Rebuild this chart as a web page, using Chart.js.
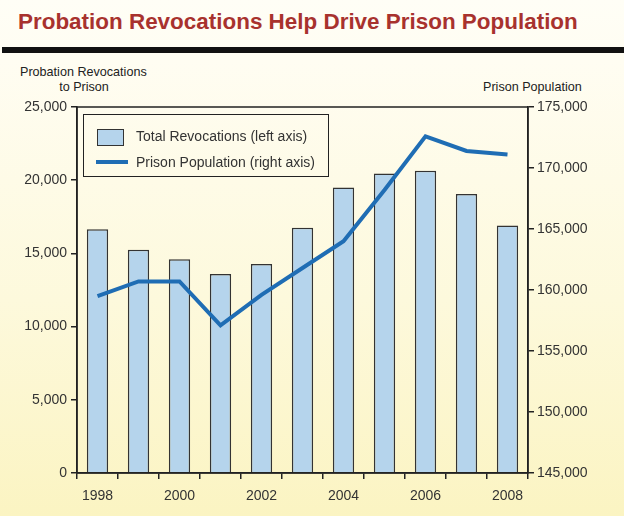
<!DOCTYPE html>
<html>
<head>
<meta charset="utf-8">
<script src="https://cdn.jsdelivr.net/npm/chart.js@4"></script>
<style>
  html, body { margin:0; padding:0; }
  body { width:624px; height:516px; position:relative; overflow:hidden;
    background: linear-gradient(to bottom, #fffef6 0px, #fffdf2 60px, #fdf9dc 300px, #fbf4c2 516px);
    font-family: "Liberation Sans", Arial, sans-serif; color:#333; }
  #title { position:absolute; left:18px; top:9px; font-weight:bold; font-size:24px; color:#a8322e; white-space:nowrap; }
  #rule { position:absolute; left:2px; right:0; top:47px; height:6px; background:#111; }
  .atitle { position:absolute; font-size:12.6px; color:#222; white-space:nowrap; }
  #lt1 { left:20px; top:65px; }
  #lt2 { left:20px; top:80px; width:128px; text-align:center; }
  #rt { left:483px; top:80px; }
  #legend { position:absolute; left:83px; top:114px; width:246px; height:63px; border:1px solid #222; box-sizing:border-box; }
  .li { position:absolute; left:0; font-size:14px; color:#333; white-space:nowrap; }
  .sw1 { position:absolute; left:13px; top:14px; width:27px; height:17px; background:#b5d4ec; border:1.5px solid #333; box-sizing:border-box; }
  .sw2 { position:absolute; left:12px; top:45px; width:32px; height:4px; background:#1f6db4; }
  #t1 { left:52px; top:13px; }
  #t2 { left:52px; top:39px; }
  canvas { position:absolute; left:0; top:0; }
</style>
</head>
<body>
<div id="title">Probation Revocations Help Drive Prison Population</div>
<div id="rule"></div>
<div class="atitle" id="lt1">Probation Revocations</div>
<div class="atitle" id="lt2">to Prison</div>
<div class="atitle" id="rt">Prison Population</div>
<canvas id="c" width="624" height="516"></canvas>
<div id="legend">
  <div class="sw1"></div><div class="li" id="t1">Total Revocations (left axis)</div>
  <div class="sw2"></div><div class="li" id="t2">Prison Population (right axis)</div>
</div>
<script>
const years = ['1998','1999','2000','2001','2002','2003','2004','2005','2006','2007','2008'];
const revocations = [16650, 15250, 14600, 13600, 14280, 16750, 19500, 20450, 20650, 19050, 16900];
const prisonPop = [159500, 160700, 160700, 157100, 159600, 161800, 164000, 168200, 172600, 171400, 171100];
const leftTicks = [0, 5000, 10000, 15000, 20000, 25000];
const rightTicks = [145000, 150000, 155000, 160000, 165000, 170000, 175000];

// fit title width
(function(){
  const t = document.getElementById('title');
  const w = t.getBoundingClientRect().width;
  const target = 560;
  t.style.fontSize = (24 * target / w) + 'px';
})();

const fmt = v => v.toLocaleString('en-US');

const frame = {
  id: 'frame',
  afterDraw(chart) {
    const {ctx, chartArea:a} = chart;
    ctx.save();
    ctx.strokeStyle = '#222';
    ctx.lineWidth = 1.5;
    ctx.strokeRect(a.left, a.top, a.right - a.left, a.bottom - a.top);
    ctx.restore();
  }
};

new Chart(document.getElementById('c'), {
  data: {
    labels: years,
    datasets: [
      { type:'line', label:'Prison Population (right axis)', data: prisonPop, yAxisID:'y1',
        borderColor:'#1f6db4', borderWidth:4, pointRadius:0, tension:0, fill:false, order:0 },
      { type:'bar', label:'Total Revocations (left axis)', data: revocations, yAxisID:'y',
        backgroundColor:'#b5d4ec', borderColor:'#333', borderWidth:1.5,
        categoryPercentage:1.0, barPercentage:0.52, order:1 }
    ]
  },
  options: {
    responsive:false, animation:false,
    layout:{ padding:{ top:107, left:0, right:0, bottom:0 } },
    plugins:{ legend:{display:false}, tooltip:{enabled:false} },
    scales:{
      x:{
        type:'category', offset:true,
        grid:{ offset:true, drawOnChartArea:false, drawTicks:true, tickLength:6, color:'#222', lineWidth:1.5 },
        border:{ display:true, color:'#222', width:1.5 },
        ticks:{ autoSkip:false, maxRotation:0, color:'#333', font:{family:'Liberation Sans', size:14}, padding:9,
          callback:function(v, i){ const l = years[i]; return (parseInt(l) % 2 === 0) ? l : ''; } },
        afterFit(s){ s.height = 516 - 473; }
      },
      y:{
        position:'left', min:0, max:25000,
        afterBuildTicks(s){ s.ticks = leftTicks.map(v=>({value:v})); },
        grid:{ drawOnChartArea:false, tickLength:6, color:'#222', lineWidth:1.5 },
        border:{ display:true, color:'#222', width:1.5 },
        ticks:{ color:'#333', font:{family:'Liberation Sans', size:14}, padding:4, callback:v=>fmt(v) },
        afterFit(s){ s.width = 77; }
      },
      y1:{
        position:'right', min:145000, max:175000,
        afterBuildTicks(s){ s.ticks = rightTicks.map(v=>({value:v})); },
        grid:{ drawOnChartArea:false, tickLength:6, color:'#222', lineWidth:1.5 },
        border:{ display:true, color:'#222', width:1.5 },
        ticks:{ color:'#333', font:{family:'Liberation Sans', size:14}, padding:3, callback:v=>fmt(v) },
        afterFit(s){ s.width = 624 - 528; }
      }
    }
  },
  plugins:[frame]
});
</script>
</body>
</html>
